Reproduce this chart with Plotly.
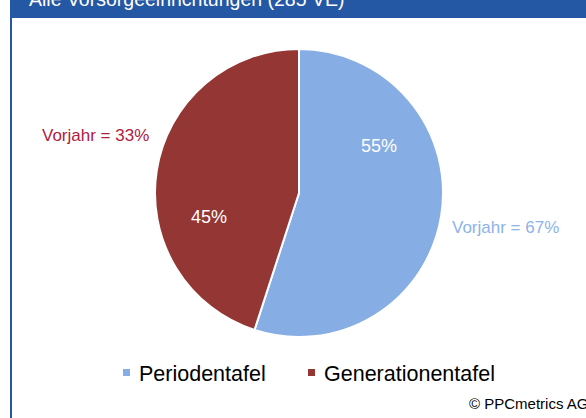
import plotly.graph_objects as go

W, H = 586, 418

labels = ["Periodentafel", "Generationentafel"]
values = [55, 45]
colors = ["#86ADE4", "#943634"]
prev_year = [67, 33]
title_text = "Alle Vorsorgeeinrichtungen (285 VE)"
copyright_text = "© PPCmetrics AG"

def px(x):
    return x / W

def py(y):
    return 1 - y / H

cx, cy, r = 299, 193, 144

fig = go.Figure(go.Pie(
    labels=labels,
    values=values,
    sort=False,
    direction="clockwise",
    rotation=0,
    marker=dict(colors=colors, line=dict(color="white", width=2)),
    textinfo="none",
    hoverinfo="label+percent",
    showlegend=False,
    domain=dict(x=[px(cx - r), px(cx + r)], y=[py(cy + r), py(cy - r)]),
))

# banner and left frame line
fig.add_shape(type="rect", xref="paper", yref="paper",
              x0=px(10), x1=1.01, y0=py(18), y1=1.01,
              fillcolor="#2457A4", line=dict(width=0), layer="below")
fig.add_shape(type="line", xref="paper", yref="paper",
              x0=px(11), x1=px(11), y0=py(18), y1=-0.01,
              line=dict(color="#2457A4", width=2))

font = "Arial, Liberation Sans, sans-serif"
annotations = [
    dict(text=title_text, x=px(27), y=py(-1), xanchor="left",
         font=dict(color="white", size=19.5, family=font)),
    dict(text=f"{values[0]}%", x=px(379), y=py(146), font=dict(color="white", size=18, family=font)),
    dict(text=f"{values[1]}%", x=px(209), y=py(217), font=dict(color="white", size=18, family=font)),
    dict(text=f"Vorjahr = {prev_year[1]}%", x=px(95), y=py(136),
         font=dict(color="#B0203F", size=17, family=font)),
    dict(text=f"Vorjahr = {prev_year[0]}%", x=px(505), y=py(228),
         font=dict(color="#8DB3E8", size=17, family=font)),
    dict(text=copyright_text, x=px(467), y=py(403), xanchor="left",
         font=dict(color="black", size=15, family=font)),
]

# legend (squares + labels) built from the label/colour lists
legend_x = [123, 308]
for lab, col, lx in zip(labels, colors, legend_x):
    fig.add_shape(type="rect", xref="paper", yref="paper",
                  x0=px(lx), x1=px(lx + 7), y0=py(376), y1=py(369),
                  fillcolor=col, line=dict(width=0))
    annotations.append(dict(text=lab, x=px(lx + 14), y=py(374), xanchor="left",
                            font=dict(color="black", size=21.5, family=font)))

for a in annotations:
    a.update(xref="paper", yref="paper", showarrow=False)
    a.setdefault("xanchor", "center")
    a.setdefault("yanchor", "middle")

fig.update_layout(
    width=W, height=H,
    margin=dict(l=0, r=0, t=0, b=0),
    paper_bgcolor="white",
    plot_bgcolor="white",
    annotations=annotations,
    showlegend=False,
)

fig.write_html("out.html", config={"displayModeBar": False},
               post_script="document.body.style.margin='0px';")
